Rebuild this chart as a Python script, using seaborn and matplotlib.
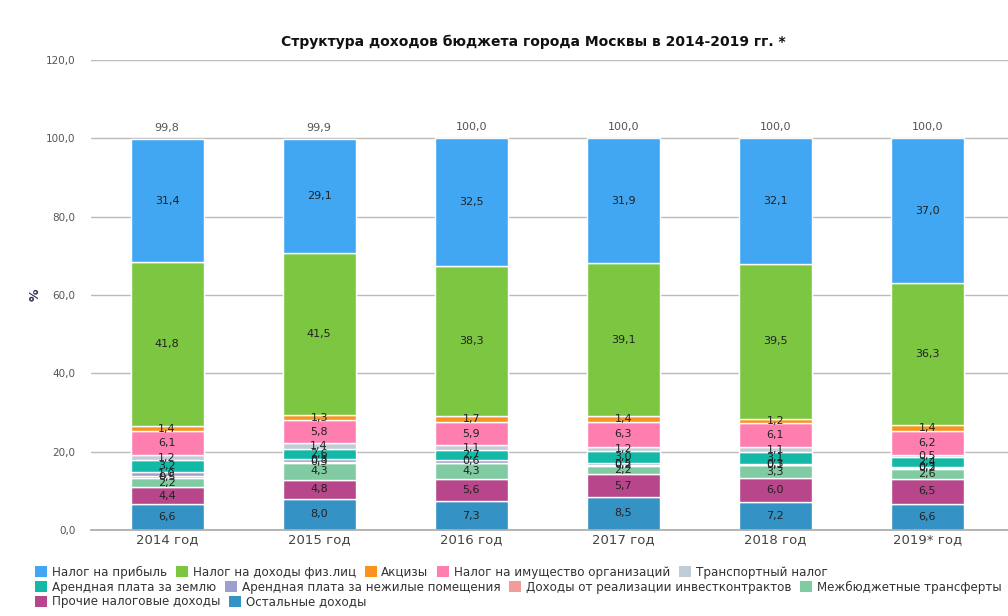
import numpy as np
import pandas as pd
import matplotlib
matplotlib.use("Agg")
import matplotlib.pyplot as plt
import seaborn as sns
from matplotlib.patches import Patch

years = ["2014 год", "2015 год", "2016 год", "2017 год", "2018 год", "2019* год"]

# stacked from bottom to top
series_names = [
    "Остальные доходы",
    "Прочие налоговые доходы",
    "Межбюджетные трансферты",
    "Доходы от реализации инвестконтрактов",
    "Арендная плата за нежилые помещения",
    "Арендная плата за землю",
    "Транспортный налог",
    "Налог на имущество организаций",
    "Акцизы",
    "Налог на доходы физ.лиц",
    "Налог на прибыль",
]
ostalnye      = [6.6, 8.0, 7.3, 8.5, 7.2, 6.6]
prochie       = [4.4, 4.8, 5.6, 5.7, 6.0, 6.5]
mezhbyudzh    = [2.2, 4.3, 4.3, 2.2, 3.3, 2.6]
investkontr   = [0.5, 0.3, 0.0, 0.2, 0.1, 0.2]
arenda_nezh   = [1.0, 0.8, 0.6, 0.5, 0.3, 0.3]
arenda_zemlya = [3.2, 2.6, 2.7, 3.0, 3.1, 2.4]
transport     = [1.2, 1.4, 1.1, 1.2, 1.1, 0.5]
imushchestvo  = [6.1, 5.8, 5.9, 6.3, 6.1, 6.2]
aktsizy       = [1.4, 1.3, 1.7, 1.4, 1.2, 1.4]
ndfl          = [41.8, 41.5, 38.3, 39.1, 39.5, 36.3]
pribyl        = [31.4, 29.1, 32.5, 31.9, 32.1, 37.0]
totals        = [99.8, 99.9, 100.0, 100.0, 100.0, 100.0]

series_values = [ostalnye, prochie, mezhbyudzh, investkontr, arenda_nezh,
                 arenda_zemlya, transport, imushchestvo, aktsizy, ndfl, pribyl]
colors = ["#3592c4", "#b8468b", "#80cba2", "#f29b9b", "#9e9fd1",
          "#13b9a6", "#c1cdd6", "#ff7eb0", "#f7931e", "#7dc641", "#41a7f3"]

legend_order = [
    "Налог на прибыль", "Налог на доходы физ.лиц", "Акцизы",
    "Налог на имущество организаций", "Транспортный налог",
    "Арендная плата за землю", "Арендная плата за нежилые помещения",
    "Доходы от реализации инвестконтрактов", "Межбюджетные трансферты",
    "Прочие налоговые доходы", "Остальные доходы",
]

sns.set_theme(style="white")
plt.rcParams["font.family"] = ["DejaVu Sans"]

fig = plt.figure(figsize=(10.08, 6.16), dpi=100)
ax = fig.add_axes([91/1008, 1-530/616, 917/1008, 470/616])

bottom = np.zeros(len(years))
for name, vals, col in zip(series_names, series_values, colors):
    df = pd.DataFrame({"year": years, "value": vals})
    sns.barplot(data=df, x="year", y="value", color=col, bottom=bottom,
                width=0.48, edgecolor="white", linewidth=1.0, ax=ax,
                saturation=1, errorbar=None, order=years)
    for i, v in enumerate(vals):
        if v > 0:
            ax.text(i, bottom[i] + v/2, f"{v:.1f}".replace(".", ","),
                    ha="center", va="center", fontsize=8, color="#222222")
    bottom = bottom + np.array(vals)

for i, t in enumerate(totals):
    ax.text(i, bottom[i] + 1.5, f"{t:.1f}".replace(".", ","), ha="center",
            va="bottom", fontsize=8, color="#555555")

ax.set_ylim(0, 120)
ax.set_xlim(-0.5, 5.53)
ax.set_yticks(np.arange(0, 121, 20))
ax.set_yticklabels([f"{v:.1f}".replace(".", ",") for v in np.arange(0, 121, 20)],
                   fontsize=7.5, color="#555555")
ax.tick_params(axis="y", length=0, pad=11)
ax.tick_params(axis="x", length=0, pad=2, labelsize=9.5, labelcolor="#444444")
ax.yaxis.grid(True, color="#bbbbbb", linewidth=1)
ax.set_axisbelow(True)
for s in ["top", "right", "left"]:
    ax.spines[s].set_visible(False)
ax.spines["bottom"].set_color("#aaaaaa")
ax.set_xlabel("")
ax.set_ylabel("%", fontsize=9, color="#333355", fontweight="bold", labelpad=3)

fig.text(533/1008, 1-42/616, "Структура доходов бюджета города Москвы в 2014-2019 гг. *",
         ha="center", va="center", fontsize=10, fontweight="bold", color="#111111")

cmap = dict(zip(series_names, colors))
rows = [legend_order[:5], legend_order[5:9], legend_order[9:]]
ys = [1-572/616, 1-587/616, 1-602/616]
for row, y in zip(rows, ys):
    handles = [Patch(facecolor=cmap[n], edgecolor="none") for n in row]
    fig.legend(handles, row, loc="center left", bbox_to_anchor=(35/1008, y),
               ncol=len(row), frameon=False, fontsize=8.6, handlelength=1.0,
               handleheight=1.0, handletextpad=0.4, columnspacing=0.75,
               borderaxespad=0, borderpad=0, labelcolor="#333333")

fig.savefig("out.png", dpi=100)
